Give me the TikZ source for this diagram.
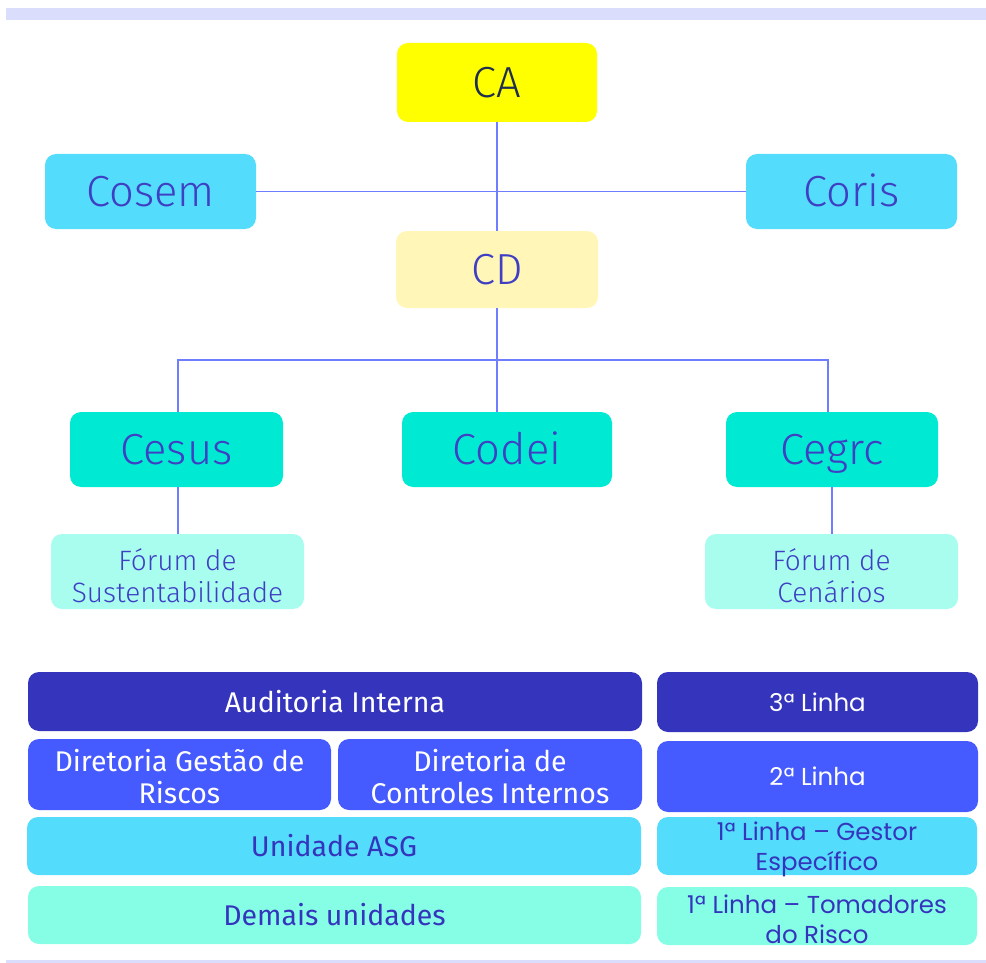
\documentclass[tikz,border=0pt]{standalone}
\usepackage{fontspec}
\setmainfont{Fira Sans}
\newfontfamily\lightfont{Fira Sans}[UprightFont={* Light}]
\newfontfamily\rightfont{Poppins}
\newcommand\tallstrut[1]{\rule{0pt}{#1}}
\definecolor{barcol}{HTML}{DADEFC}
\definecolor{linecol}{HTML}{6F7EFF}
\definecolor{cayel}{HTML}{FFFF00}
\definecolor{cdyel}{HTML}{FFF6B8}
\definecolor{skyb}{HTML}{54DCFC}
\definecolor{turq}{HTML}{00EAD3}
\definecolor{aqua}{HTML}{A8FDEE}
\definecolor{indigo}{HTML}{3534BD}
\definecolor{bluem}{HTML}{465BFF}
\definecolor{mint}{HTML}{86FEE6}
\definecolor{txtblue}{HTML}{3F3FC4}
\definecolor{txtnavy}{HTML}{1F2D4F}
\begin{document}
\begin{tikzpicture}[x=1pt,y=-1pt,
  box/.style={rounded corners=11pt, inner xsep=0pt, inner ysep=-12pt, align=center, text=txtblue},
  big/.style={box, font=\lightfont\fontsize{43.5}{48}\selectfont, text height=30pt, text depth=0pt},
  forum/.style={box, fill=aqua, font=\lightfont\fontsize{28}{32}\selectfont},
  lft/.style={box, font=\fontsize{28.5}{32}\selectfont},
  rgt/.style={box, font=\rightfont\fontsize{24.5}{30}\selectfont},
  conn/.style={draw=linecol, line width=1.9pt}]
\useasboundingbox (0,0) rectangle (986,963);
\fill[barcol] (6,8) rectangle (986,20);
\fill[barcol] (6,960) rectangle (986,963);
% top org chart
\node[big, fill=cayel, text=txtnavy, minimum width=200pt, minimum height=79pt] (ca) at (497,82.5) {CA};
\node[big, fill=skyb, minimum width=211pt, minimum height=75pt] (cosem) at (150.5,191.5) {Cosem};
\node[big, fill=skyb, minimum width=211pt, minimum height=75pt] (coris) at (851.5,191.5) {Coris};
\node[big, fill=cdyel, minimum width=202pt, minimum height=77pt] (cd) at (497,269.5) {CD};
\node[big, fill=turq, minimum width=213pt, minimum height=75pt] (cesus) at (176.5,449.5) {Cesus};
\node[big, fill=turq, minimum width=210pt, minimum height=75pt] (codei) at (507,449.5) {Codei};
\node[big, fill=turq, minimum width=212pt, minimum height=75pt] (cegrc) at (832,449.5) {Cegrc};
\node[forum, minimum width=253pt, minimum height=75pt] (fsus) at (177.5,571.5) {\tallstrut{30pt}Fórum de\\Sustentabilidade};
\node[forum, minimum width=253pt, minimum height=75pt] (fcen) at (831.5,571.5) {\tallstrut{30pt}Fórum de\\Cenários};
\coordinate (j) at (497,360);
\draw[conn] (ca.south) -- (cd.north);
\draw[conn] (cosem.east) -- (coris.west);
\draw[conn] (cd.south) -- (j);
\draw[conn] (j) -| ([xshift=1.5pt]cesus.north);
\draw[conn] (j) -| ([xshift=-4pt]cegrc.north);
\draw[conn] (j) -- (j |- codei.north);
\draw[conn] ([xshift=1.5pt]cesus.south) -- ([xshift=0.5pt]fsus.north);
\draw[conn] (cegrc.south) -- ([xshift=0.5pt]fcen.north);
% bottom table
\node[lft, fill=indigo, text=white, minimum width=614pt, minimum height=59pt] (aud) at (335,701.5) {Auditoria Interna};
\node[lft, fill=bluem, text=white, minimum width=303pt, minimum height=71pt] (dgr) at (179.5,774.5) {\tallstrut{26pt}Diretoria Gestão de\\Riscos};
\node[lft, fill=bluem, text=white, minimum width=304pt, minimum height=71pt] (dci) at (490,774.5) {\tallstrut{26pt}Diretoria de\\Controles Internos};
\node[lft, fill=skyb, text=indigo, minimum width=614pt, minimum height=58pt] (asg) at (334,846) {Unidade ASG};
\node[lft, fill=mint, text=indigo, minimum width=613pt, minimum height=58pt] (dem) at (334.5,915) {Demais unidades};
\node[rgt, fill=indigo, text=white, minimum width=321pt, minimum height=60pt] (l3) at (817.5,702) {3ª Linha};
\node[rgt, fill=bluem, text=white, minimum width=321pt, minimum height=71pt] (l2) at (817.5,776.5) {2ª Linha};
\node[rgt, fill=skyb, text=indigo, minimum width=320pt, minimum height=58pt] (l1g) at (817,846) {\tallstrut{26pt}1ª Linha – Gestor\\Específico};
\node[rgt, fill=mint, text=indigo, minimum width=320pt, minimum height=58pt] (l1t) at (817,916) {\tallstrut{26pt}1ª Linha – Tomadores\\do Risco};
\end{tikzpicture}
\end{document}
